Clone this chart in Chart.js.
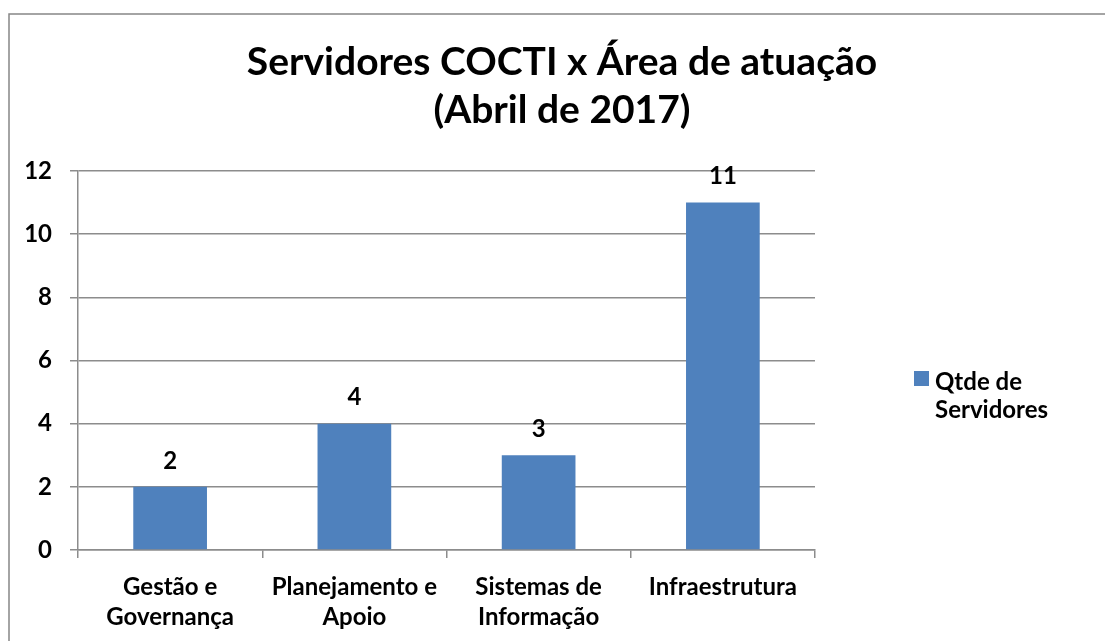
<!DOCTYPE html>
<html>
<head>
<meta charset="utf-8">
<script src="https://cdn.jsdelivr.net/npm/chart.js@4.4.1/dist/chart.umd.min.js"></script>
<style>
  body { margin: 0; background: #fff; }
  #wrap { width: 1105px; height: 641px; }
</style>
</head>
<body>
<div id="wrap"><canvas id="myChart" width="1105" height="641"></canvas></div>
<script>
const categories = [['Gestão e', 'Governança'], ['Planejamento e', 'Apoio'], ['Sistemas de', 'Informação'], 'Infraestrutura'];
const servidores = [2, 4, 3, 11];
const yTicks = [0, 2, 4, 6, 8, 10, 12];
const titleLines = ['Servidores COCTI x Área de atuação', '(Abril de 2017)'];
const seriesName = ['Qtde de', 'Servidores'];

const FONT = 'Lato, "Noto Sans", sans-serif';
const BLUE = '#4F81BD';
const GRAY = '#8c8c8c';

// frame, title, data labels and legend
const extras = {
  id: 'extras',
  beforeDraw(chart) {
    const c = chart.ctx;
    c.save();
    c.strokeStyle = '#878787';
    c.lineWidth = 1.5;
    c.strokeRect(9, 14, 1400, 1400);
    c.restore();
  },
  afterDraw(chart) {
    const c = chart.ctx;
    c.save();
    c.fillStyle = '#000';
    c.textAlign = 'center';
    c.textBaseline = 'middle';
    c.font = 'bold 39px ' + FONT;
    c.fillText(titleLines[0], 562, 62);
    c.fillText(titleLines[1], 562, 110);

    c.font = 'bold 24px ' + FONT;
    const meta = chart.getDatasetMeta(0);
    meta.data.forEach((bar, i) => {
      c.fillText(String(servidores[i]), bar.x, bar.y - 26);
    });

    // legend
    c.fillStyle = BLUE;
    c.fillRect(914, 371, 15, 15);
    c.fillStyle = '#000';
    c.textAlign = 'left';
    c.fillText(seriesName[0], 935, 382);
    c.fillText(seriesName[1], 935, 410);
    c.restore();
  }
};

const ctx = document.getElementById('myChart');

const cfg = {
  type: 'bar',
  data: {
    labels: categories,
    datasets: [{
      label: seriesName.join(' '),
      data: servidores,
      backgroundColor: BLUE,
      borderWidth: 0,
      barPercentage: 0.4,
      categoryPercentage: 1.0
    }]
  },
  options: {
    responsive: false,
    animation: false,
    layout: { padding: { top: 171, right: 290, left: 0, bottom: 0 } },
    plugins: {
      legend: { display: false },
      title: { display: false },
      tooltip: { enabled: false }
    },
    scales: {
      x: {
        offset: true,
        grid: { display: true, drawOnChartArea: false, color: GRAY, tickLength: 8, lineWidth: 1.5 },
        border: { display: true, color: GRAY, width: 1.5 },
        ticks: { color: '#000', font: { family: FONT, size: 24, weight: 'bold', lineHeight: 1.25 }, padding: 14, maxRotation: 0 },
        afterFit(scale) { scale.height = 91; }
      },
      y: {
        min: 0,
        max: 12,
        afterBuildTicks(scale) { scale.ticks = yTicks.map(v => ({ value: v })); },
        grid: { color: GRAY, tickLength: 8, lineWidth: 1.5 },
        border: { display: true, color: GRAY, width: 1.5 },
        ticks: { color: '#000', font: { family: FONT, size: 24, weight: 'bold' }, padding: 18 },
        afterFit(scale) { scale.width = 78; }
      }
    }
  },
  plugins: [extras]
};

let cht = new Chart(ctx, cfg);
</script>
</body>
</html>
